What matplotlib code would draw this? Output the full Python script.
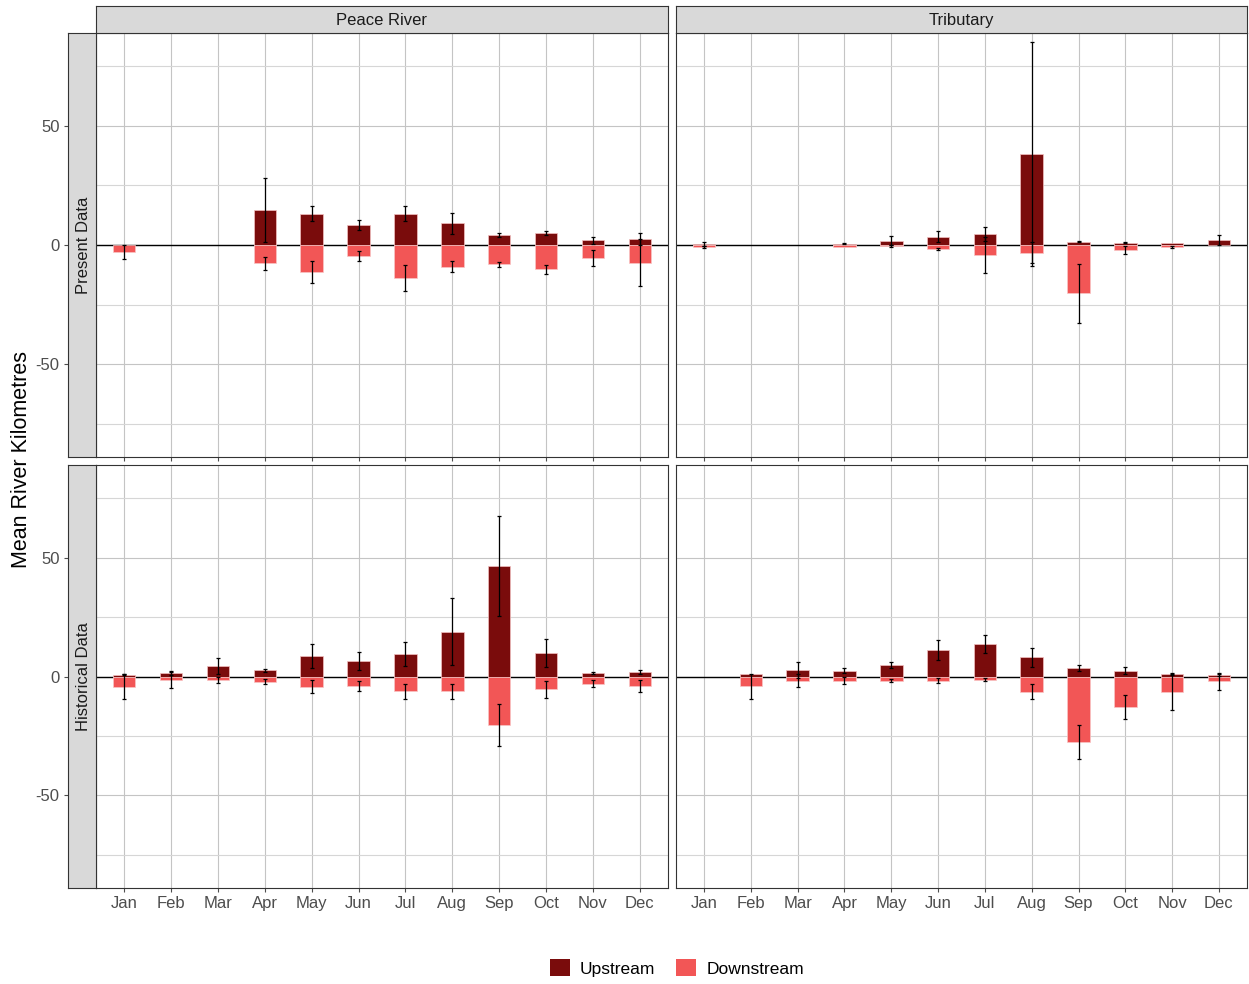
import numpy as np
import matplotlib
matplotlib.use("Agg")
import matplotlib.pyplot as plt
from matplotlib.patches import Patch

plt.rcParams['font.family'] = ['Liberation Sans', 'DejaVu Sans']

months = ["Jan", "Feb", "Mar", "Apr", "May", "Jun",
          "Jul", "Aug", "Sep", "Oct", "Nov", "Dec"]
locations = ["Peace River", "Tributary"]
periods = ["Present Data", "Historical Data"]
nan = np.nan

# mean river km moved per month, with error half-widths
peace_present_up = [nan, nan, nan, 14.7, 13.2, 8.3, 13.2, 9.1, 4.3, 5.2, 2.0, 2.4]
peace_present_up_sd = [nan, nan, nan, 13.4, 3.3, 2.0, 3.2, 4.3, 0.9, 0.8, 1.4, 2.6]
peace_present_dn = [-2.9, nan, nan, -7.7, -11.3, -4.6, -13.7, -9.1, -8.1, -10.2, -5.5, -7.4]
peace_present_dn_sd = [2.8, nan, nan, 2.6, 4.7, 2.0, 5.5, 2.3, 1.0, 2.0, 3.5, 10.0]

trib_present_up = [0.4, nan, nan, 0.5, 1.8, 3.4, 4.6, 38.2, 1.4, 1.0, 1.0, 2.1]
trib_present_up_sd = [0.9, nan, nan, 0.2, 1.8, 2.3, 2.8, 47.0, 0.3, 0.3, nan, 2.3]
trib_present_dn = [-0.8, nan, nan, -0.8, -0.6, -1.7, -4.1, -3.2, -20.3, -2.1, -0.9, nan]
trib_present_dn_sd = [0.5, nan, nan, nan, 0.4, 0.3, 7.5, 4.5, 12.4, 1.6, 0.5, nan]

peace_hist_up = [0.8, 1.5, 4.3, 2.7, 8.7, 6.6, 9.4, 18.9, 46.5, 9.8, 1.5, 2.0]
peace_hist_up_sd = [0.2, 1.0, 3.3, 0.6, 5.0, 3.9, 5.0, 14.2, 21.0, 5.9, 0.6, 0.8]
peace_hist_dn = [-4.3, -1.5, -1.5, -2.2, -4.3, -3.9, -6.3, -6.3, -20.5, -5.4, -3.1, -3.9]
peace_hist_dn_sd = [5.3, 3.4, 1.1, 1.0, 2.8, 2.2, 3.1, 3.3, 8.9, 3.7, 1.5, 2.5]

trib_hist_up = [nan, 1.0, 2.9, 2.5, 4.9, 11.2, 13.5, 8.0, 3.6, 2.5, 1.0, 0.7]
trib_hist_up_sd = [nan, nan, 3.4, 1.2, 1.3, 4.2, 3.8, 3.8, 1.4, 1.5, 0.2, 0.3]
trib_hist_dn = [nan, -4.2, -1.7, -1.7, -1.7, -1.7, -1.3, -6.4, -27.5, -12.8, -6.4, -2.1]
trib_hist_dn_sd = [nan, 5.3, 2.8, 1.6, 0.8, 0.9, 0.7, 3.2, 7.2, 5.0, 7.7, 3.6]

panels = {
    (0, 0): (peace_present_up, peace_present_up_sd, peace_present_dn, peace_present_dn_sd),
    (0, 1): (trib_present_up, trib_present_up_sd, trib_present_dn, trib_present_dn_sd),
    (1, 0): (peace_hist_up, peace_hist_up_sd, peace_hist_dn, peace_hist_dn_sd),
    (1, 1): (trib_hist_up, trib_hist_up_sd, trib_hist_dn, trib_hist_dn_sd),
}

up_col = "#7A0C0C"
dn_col = "#F25656"
strip_col = "#D9D9D9"
border_col = "#333333"

W, H = 1249, 984
fig = plt.figure(figsize=(W / 100, H / 100), dpi=100)


def px_rect(x0, y0, x1, y1):
    return [x0 / W, 1 - y1 / H, (x1 - x0) / W, (y1 - y0) / H]


col_x = [(96, 668), (676, 1247)]
row_y = [(33, 457), (465, 888)]
x = np.arange(1, 13)

for (r, c), (up, up_sd, dn, dn_sd) in panels.items():
    ax = fig.add_axes(px_rect(col_x[c][0], row_y[r][0], col_x[c][1], row_y[r][1]))
    ax.set_xlim(0.4, 12.6)
    ax.set_ylim(-89, 89)
    ax.set_yticks([-50, 0, 50])
    ax.set_yticks([-75, -25, 25, 75], minor=True)
    ax.set_xticks(x)
    ax.grid(which="major", color="#C4C4C4", lw=0.8)
    ax.grid(which="minor", axis="y", color="#D6D6D6", lw=0.8)
    ax.set_axisbelow(True)
    ax.axhline(0, color="black", lw=1, zorder=1.5)

    up = np.array(up, dtype=float)
    dn = np.array(dn, dtype=float)
    ax.bar(x, up, width=0.48, color=up_col, edgecolor="#F4C0C0", lw=0.5, zorder=2)
    ax.bar(x, dn, width=0.48, color=dn_col, edgecolor="#F8C6C6", lw=0.5, zorder=2)
    ax.errorbar(x, up, yerr=np.array(up_sd, dtype=float), fmt="none",
                ecolor="black", elinewidth=0.9, capsize=1.6, capthick=0.9, zorder=3)
    ax.errorbar(x, dn, yerr=np.array(dn_sd, dtype=float), fmt="none",
                ecolor="black", elinewidth=0.9, capsize=1.6, capthick=0.9, zorder=3)

    for s in ax.spines.values():
        s.set_color(border_col)
        s.set_linewidth(0.8)
    ax.tick_params(axis="y", which="both", left=False, labelleft=False)
    ax.tick_params(axis="x", length=3, color="#4D4D4D", width=0.8,
                   labelbottom=(r == 1), labelsize=12, labelcolor="#4D4D4D", pad=3)
    if r == 1:
        ax.set_xticklabels(months)

    # column strip on top
    if r == 0:
        sx = fig.add_axes(px_rect(col_x[c][0], 6, col_x[c][1], 33))
        sx.set_facecolor(strip_col)
        sx.set_xticks([])
        sx.set_yticks([])
        for s in sx.spines.values():
            s.set_color(border_col)
            s.set_linewidth(0.8)
        sx.text(0.5, 0.45, locations[c], ha="center", va="center",
                fontsize=12, color="#1A1A1A", transform=sx.transAxes)

    # row strip on the left, carrying the y tick labels
    if c == 0:
        sy = fig.add_axes(px_rect(68, row_y[r][0], 96, row_y[r][1]))
        sy.set_facecolor(strip_col)
        sy.set_xticks([])
        sy.set_ylim(-89, 89)
        sy.set_yticks([-50, 0, 50])
        sy.set_yticklabels(["-50", "0", "50"])
        sy.tick_params(axis="y", length=3, color="#4D4D4D", width=0.8,
                       labelsize=12, labelcolor="#4D4D4D", pad=3)
        for s in sy.spines.values():
            s.set_color(border_col)
            s.set_linewidth(0.8)
        sy.text(0.55, 0.5, periods[r], ha="center", va="center", rotation=90,
                fontsize=12, color="#1A1A1A", transform=sy.transAxes)

fig.text(22 / W, 1 - 460 / H, "Mean River Kilometres", rotation=90,
         ha="center", va="center", fontsize=15.5, color="black")

handles = [Patch(facecolor=up_col, label="Upstream"),
           Patch(facecolor=dn_col, label="Downstream")]
fig.legend(handles=handles, loc="center", bbox_to_anchor=(677 / W, 1 - 968 / H),
           ncol=2, frameon=False, fontsize=12.5, handlelength=1.15, handleheight=1.15,
           handletextpad=0.6, columnspacing=1.2)

fig.savefig("out.png", dpi=100)
